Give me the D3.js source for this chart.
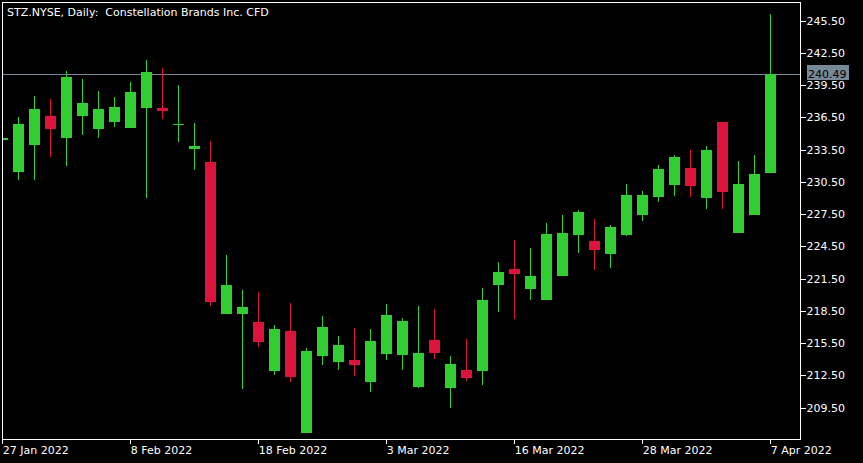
<!DOCTYPE html>
<html>
<head>
<meta charset="utf-8">
<script src="https://cdn.jsdelivr.net/npm/d3@7"></script>
<style>
html,body{margin:0;padding:0;background:#000;overflow:hidden;}
svg{display:block;}
text{font-family:"DejaVu Sans",sans-serif;font-size:11px;fill:#fff;}
</style>
</head>
<body>
<svg id="chart" width="863" height="463"></svg>
<script>
const dates = ["2022-01-27","2022-01-28","2022-01-31","2022-02-01","2022-02-02","2022-02-03","2022-02-04","2022-02-07","2022-02-08","2022-02-09","2022-02-10","2022-02-11","2022-02-14","2022-02-15","2022-02-16","2022-02-17","2022-02-18","2022-02-22","2022-02-23","2022-02-24","2022-02-25","2022-02-28","2022-03-01","2022-03-02","2022-03-03","2022-03-04","2022-03-07","2022-03-08","2022-03-09","2022-03-10","2022-03-11","2022-03-14","2022-03-16","2022-03-17","2022-03-18","2022-03-21","2022-03-22","2022-03-23","2022-03-24","2022-03-25","2022-03-28","2022-03-29","2022-03-30","2022-03-31","2022-04-01","2022-04-04","2022-04-05","2022-04-06","2022-04-07"];
const open  = [234.40,231.43,233.95,236.62,234.60,236.64,235.44,236.09,235.53,237.39,237.36,235.80,233.57,232.34,218.23,218.23,217.45,212.92,216.62,207.16,214.32,213.76,213.92,211.90,214.50,214.41,211.43,215.78,211.34,212.99,212.92,220.92,222.38,220.55,219.53,221.76,225.57,224.99,223.81,225.57,227.43,229.11,230.23,231.78,229.02,236.06,225.76,227.43,231.34];
const high  = [234.70,236.52,238.48,238.20,240.80,240.06,238.94,238.38,239.78,241.83,241.08,239.50,235.97,234.29,223.69,220.43,220.24,217.17,219.22,215.04,218.01,216.15,216.90,216.80,219.13,217.83,218.94,218.66,214.29,215.87,220.62,223.03,225.08,224.34,226.66,227.41,227.87,227.03,226.48,230.29,229.64,232.06,232.99,233.45,233.83,236.10,232.43,232.99,246.10];
const low   = [234.30,230.69,230.69,232.83,231.99,234.88,234.60,235.62,235.50,229.02,236.37,234.23,231.62,218.97,218.20,211.19,215.16,212.55,211.90,207.10,213.48,213.02,212.46,210.97,213.95,213.02,211.34,214.04,209.48,211.99,211.62,218.41,217.76,219.53,219.50,221.70,223.90,222.32,222.50,225.50,226.88,228.64,229.20,229.11,227.99,227.99,225.70,227.40,231.30];
const close = [234.60,235.87,237.27,235.41,240.24,237.83,237.27,237.45,238.85,240.71,237.11,235.88,233.83,219.34,220.90,218.85,215.62,216.80,212.37,214.76,216.99,215.31,213.48,215.69,218.10,217.55,214.57,214.60,213.55,212.27,219.50,222.10,221.95,221.73,225.64,225.73,227.69,224.18,226.29,229.27,229.27,231.69,232.80,230.13,233.45,229.57,230.29,231.22,240.49];
const yTicks = [209.5,212.5,215.5,218.5,221.5,224.5,227.5,230.5,233.5,236.5,239.5,242.5,245.5];
const xTickDates = ["2022-01-27","2022-02-08","2022-02-18","2022-03-03","2022-03-16","2022-03-28","2022-04-07"];
const xTickLabels = ["27 Jan 2022","8 Feb 2022","18 Feb 2022","3 Mar 2022","16 Mar 2022","28 Mar 2022","7 Apr 2022"];
const chartTitle = "STZ.NYSE, Daily:  Constellation Brands Inc. CFD";
const lastPrice = 240.49;

(function () {
const W = 863, H = 463;
const pL = 2, pT = 2, pR = 800, pB = 439;
const UP = "#32cd32", DOWN = "#dc143c", GRID = "#778899";

const svg = d3.select("#chart");
svg.append("rect").attr("width", W).attr("height", H).attr("fill", "#000");

const x = d3.scalePoint().domain(dates).range([2.3, 770.3]);
const y = d3.scaleLinear().domain([209.5, 245.5]).range([407.5, 20.5]);

const data = dates.map((d, i) => ({d, o: open[i], h: high[i], l: low[i], c: close[i]}));

svg.append("defs").append("clipPath").attr("id", "plot")
  .append("rect").attr("x", pL + 1).attr("y", pT + 1)
  .attr("width", pR - pL - 1).attr("height", pB - pT - 1);

const plot = svg.append("g").attr("clip-path", "url(#plot)").attr("shape-rendering", "crispEdges");

plot.append("line")
  .attr("x1", pL).attr("x2", pR)
  .attr("y1", Math.floor(y(lastPrice)) + 0.5).attr("y2", Math.floor(y(lastPrice)) + 0.5)
  .attr("stroke", GRID).attr("stroke-width", 1);

const candles = plot.selectAll("g.c").data(data).enter().append("g").attr("class", "c");
candles.append("line")
  .attr("x1", d => Math.floor(x(d.d)) + 0.5).attr("x2", d => Math.floor(x(d.d)) + 0.5)
  .attr("y1", d => Math.round(y(d.h))).attr("y2", d => Math.round(y(d.l)))
  .attr("stroke", d => d.c >= d.o ? UP : DOWN).attr("stroke-width", 1);
candles.append("rect")
  .attr("x", d => Math.floor(x(d.d)) - 5)
  .attr("width", 11)
  .attr("y", d => Math.round(y(Math.max(d.o, d.c))))
  .attr("height", d => Math.max(1, Math.round(y(Math.min(d.o, d.c))) - Math.round(y(Math.max(d.o, d.c)))))
  .attr("fill", d => d.c >= d.o ? UP : DOWN);

svg.append("rect")
  .attr("x", pL + 0.5).attr("y", pT + 0.5)
  .attr("width", pR - pL).attr("height", pB - pT)
  .attr("fill", "none").attr("stroke", "#fff").attr("stroke-width", 1)
  .attr("shape-rendering", "crispEdges");

const yAxis = d3.axisRight(y).tickValues(yTicks).tickFormat(d3.format(".2f")).tickSize(5).tickPadding(1);
const ya = svg.append("g").attr("transform", `translate(${pR + 0.5},0)`).call(yAxis);
ya.select(".domain").remove();
ya.selectAll(".tick line").attr("stroke", "#fff").attr("shape-rendering", "crispEdges");
ya.selectAll(".tick text").attr("fill", "#fff").style("font-family", '"DejaVu Sans",sans-serif').style("font-size", "11px");

const xAxis = d3.axisBottom(x).tickValues(xTickDates).tickFormat((d, i) => xTickLabels[i]).tickSize(4).tickPadding(3);
const xa = svg.append("g").attr("transform", `translate(0,${pB + 0.5})`).call(xAxis);
xa.select(".domain").remove();
xa.selectAll(".tick line").attr("stroke", "#fff").attr("shape-rendering", "crispEdges");
xa.selectAll(".tick text").attr("fill", "#fff").attr("text-anchor", "start").attr("x", 0)
  .style("font-family", '"DejaVu Sans",sans-serif').style("font-size", "11px");

const py = y(lastPrice);
svg.append("rect").attr("x", 807).attr("y", Math.round(py) - 9).attr("width", 42).attr("height", 15)
  .attr("fill", GRID);
svg.append("text").attr("x", 808).attr("y", py + 4).text(d3.format(".2f")(lastPrice))
  .style("fill", "#000");

svg.append("text").attr("x", 7).attr("y", 16).style("white-space", "pre").attr("xml:space", "preserve").text(chartTitle);
})();
</script>
</body>
</html>
